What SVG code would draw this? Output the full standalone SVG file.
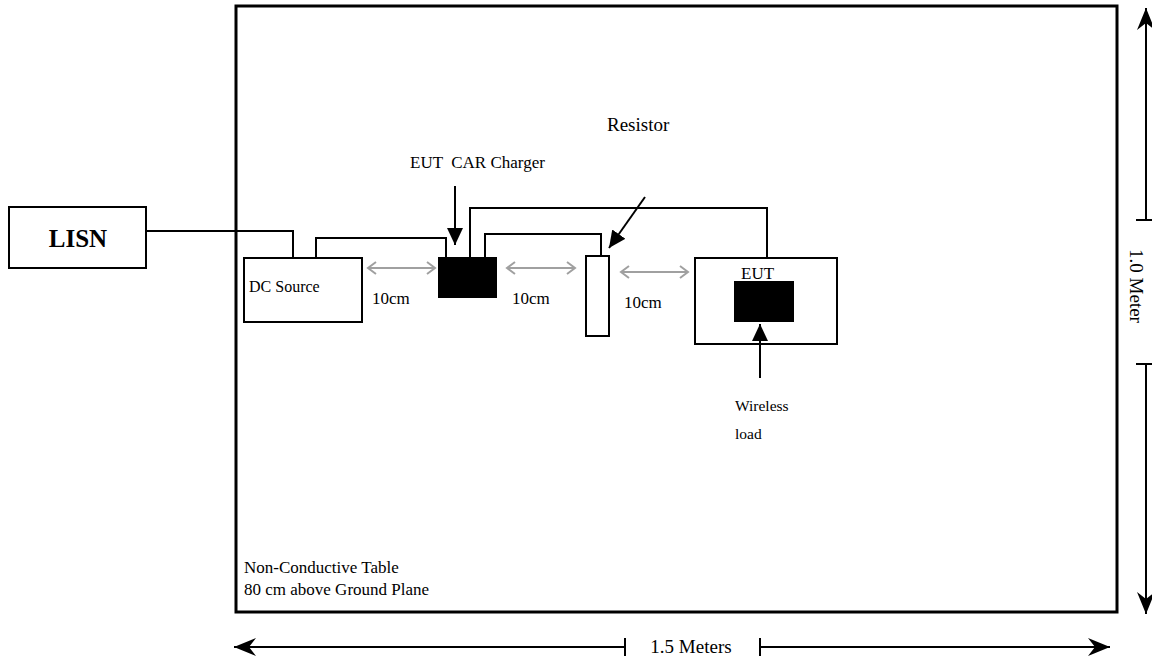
<svg xmlns="http://www.w3.org/2000/svg" width="1152" height="666" viewBox="0 0 1152 666">
<style>
text{font-family:"Liberation Serif","Times New Roman",serif;fill:#000}
.box{fill:#fff;stroke:#000;stroke-width:2}
.blk{fill:#000;stroke:none}
.wire{fill:none;stroke:#000;stroke-width:2}
.ptr{fill:none;stroke:#000;stroke-width:2;marker-end:url(#tri)}
.gap{fill:none;stroke:#a0a0a0;stroke-width:2;marker-start:url(#chev);marker-end:url(#chev)}
.dim{fill:none;stroke:#000;stroke-width:2}
</style>
<defs>
<marker id="tri" markerUnits="userSpaceOnUse" markerWidth="18" markerHeight="16" refX="17" refY="8" orient="auto">
<path d="M0,0 L17,8 L0,16 z" fill="#000"/>
</marker>
<marker id="chev" markerUnits="userSpaceOnUse" markerWidth="12" markerHeight="16" refX="9" refY="7" orient="auto-start-reverse">
<path d="M1,1 L9,7 L1,13" fill="none" stroke="#a0a0a0" stroke-width="2"/>
</marker>
<marker id="barb" markerUnits="userSpaceOnUse" markerWidth="24" markerHeight="20" refX="22" refY="9" orient="auto-start-reverse">
<path d="M0,0 L22,9 L0,18 L7,9 z" fill="#000"/>
</marker>
</defs>
<g id="table">
<rect x="236" y="6" width="881" height="606" fill="none" stroke="#000" stroke-width="3"/>
<text x="244" y="573" font-size="17">Non-Conductive Table</text>
<text x="244" y="595" font-size="17">80 cm above Ground Plane</text>
</g>
<g id="lisn">
<rect class="box" x="9" y="207" width="137" height="61"/>
<text x="78" y="247" font-size="25" font-weight="bold" text-anchor="middle">LISN</text>
</g>
<g id="dc-source">
<rect class="box" x="244" y="258" width="118" height="64"/>
<text x="249" y="292" font-size="16">DC Source</text>
</g>
<g id="charger">
<rect class="blk" x="438" y="257" width="59" height="41"/>
<text x="410" y="168" font-size="17" xml:space="preserve">EUT  CAR Charger</text>
</g>
<g id="resistor">
<rect class="box" x="586" y="256" width="23" height="80"/>
<text x="607" y="131" font-size="19">Resistor</text>
</g>
<g id="eut">
<rect class="box" x="695" y="258" width="142" height="86"/>
<text x="741" y="279" font-size="17">EUT</text>
<rect class="blk" x="734" y="281" width="60" height="41"/>
</g>
<g id="wireless-load">
<text x="735" y="411" font-size="15.5">Wireless</text>
<text x="735" y="439" font-size="15.5">load</text>
</g>
<g id="labels">
<text x="372" y="304" font-size="17">10cm</text>
<text x="512" y="304" font-size="17">10cm</text>
<text x="624" y="308" font-size="17">10cm</text>
</g>
<g id="connectors">
<polyline class="wire" points="146,231 293,231 293,258"/>
<polyline class="wire" points="316,258 316,238 446,238 446,257"/>
<polyline class="wire" points="470,257 470,208 767,208 767,258"/>
<polyline class="wire" points="485,257 485,234 601,234 601,256"/>
<line class="ptr" x1="455" y1="186" x2="455" y2="245"/>
<line class="ptr" x1="645" y1="197" x2="609" y2="248"/>
<line class="ptr" x1="760" y1="378" x2="760" y2="324"/>
<line class="gap" x1="368" y1="268" x2="435" y2="268"/>
<line class="gap" x1="507" y1="268" x2="575" y2="268"/>
<line class="gap" x1="621" y1="272" x2="688" y2="272"/>
</g>
<g id="dim-width">
<line class="dim" x1="625" y1="647" x2="234" y2="647" marker-end="url(#barb)"/>
<line class="dim" x1="625" y1="638" x2="625" y2="656"/>
<line class="dim" x1="760" y1="647" x2="1110" y2="647" marker-end="url(#barb)"/>
<line class="dim" x1="760" y1="638" x2="760" y2="656"/>
<text x="691" y="653" font-size="19" text-anchor="middle">1.5 Meters</text>
</g>
<g id="dim-height">
<line class="dim" x1="1146" y1="220" x2="1146" y2="8" marker-end="url(#barb)"/>
<line class="dim" x1="1136" y1="220" x2="1152" y2="220"/>
<line class="dim" x1="1146" y1="364" x2="1146" y2="614" marker-end="url(#barb)"/>
<line class="dim" x1="1136" y1="364" x2="1152" y2="364"/>
<text transform="translate(1130,286) rotate(90)" font-size="19" text-anchor="middle">1.0 Meter</text>
</g>
</svg>
